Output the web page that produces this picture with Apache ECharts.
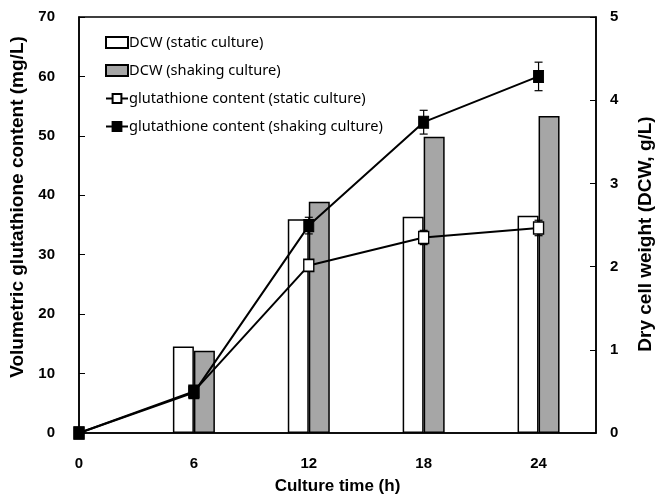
<!DOCTYPE html>
<html>
<head>
<meta charset="utf-8">
<script src="https://cdn.jsdelivr.net/npm/echarts@6/dist/echarts.min.js"></script>
<style>
html,body{margin:0;padding:0;background:#fff;}
#chart{width:671px;height:497px;}
</style>
</head>
<body>
<div id="chart"></div>
<script>
// Data
var times = [0, 6, 12, 18, 24];
var barTimes = [6, 12, 18, 24];
var dcwStatic = [1.04, 2.57, 2.60, 2.61];      // g/L
var dcwShaking = [0.99, 2.78, 3.56, 3.81];     // g/L
var gshStatic = [0, 7.0, 28.2, 32.9, 34.5];    // mg/L
var gshShaking = [0, 6.8, 34.9, 52.3, 60.0];   // mg/L
var gshStaticErr = [0, 0.5, 0.7, 1.2, 1.3];
var gshShakingErr = [0, 0.6, 1.4, 2.0, 2.4];
var xTicks = [0, 6, 12, 18, 24];
var yLeftTicks = [0, 10, 20, 30, 40, 50, 60, 70];
var yRightTicks = [0, 1, 2, 3, 4, 5];

var names = ['DCW (static culture)', 'DCW (shaking culture)',
  'glutathione content (static culture)', 'glutathione content (shaking culture)'];

function pairs(xs, ys) { return xs.map(function (x, i) { return [x, ys[i]]; }); }
function errs(xs, ys, es) { return xs.map(function (x, i) { return [x, ys[i] - es[i], ys[i] + es[i]]; }); }

function errRender(params, api) {
  var x = api.value(0);
  var lo = api.coord([x, api.value(1)]);
  var hi = api.coord([x, api.value(2)]);
  var w = 4;
  var st = { stroke: '#000', lineWidth: 1.2 };
  return {
    type: 'group',
    children: [
      { type: 'line', shape: { x1: lo[0], y1: lo[1], x2: hi[0], y2: hi[1] }, style: st },
      { type: 'line', shape: { x1: lo[0] - w, y1: lo[1], x2: lo[0] + w, y2: lo[1] }, style: st },
      { type: 'line', shape: { x1: hi[0] - w, y1: hi[1], x2: hi[0] + w, y2: hi[1] }, style: st }
    ]
  };
}

var tickFont = { fontFamily: 'Liberation Sans Narrow, Liberation Sans, sans-serif', fontWeight: 'bold', fontSize: 15, color: '#000' };
var titleFont = { fontFamily: 'Liberation Sans, sans-serif', fontWeight: 'bold', fontSize: 19, color: '#000' };

var chart = echarts.init(document.getElementById('chart'), null, { renderer: 'canvas' });
chart.setOption({
  animation: false,
  backgroundColor: '#fff',
  grid: { left: 79, right: 75, top: 17, bottom: 64, show: true, borderColor: '#000', borderWidth: 1.5, outerBoundsMode: 'none', containLabel: false },
  legend: {
    orient: 'vertical', left: 100, top: 30, itemGap: 13, itemWidth: 22, itemHeight: 11,
    textStyle: { fontFamily: 'Noto Sans, sans-serif', fontSize: 14.6, color: '#000', padding: [0, 0, 0, -4] },
    data: [
      { name: names[0], icon: 'rect' },
      { name: names[1], icon: 'rect' },
      { name: names[2] },
      { name: names[3] }
    ]
  },
  xAxis: {
    type: 'value', min: 0, max: 27, interval: 6,
    name: 'Culture time (h)', nameLocation: 'middle', nameGap: 45,
    nameTextStyle: { fontFamily: 'Liberation Sans Narrow, Liberation Sans, sans-serif', fontWeight: 'bold', fontSize: 17, color: '#000' },
    axisLine: { lineStyle: { color: '#000', width: 1.5 } },
    axisTick: { show: false },
    splitLine: { show: false },
    axisLabel: Object.assign({ margin: 23, showMaxLabel: false, formatter: function (v) { return xTicks.indexOf(v) >= 0 ? String(v) : ''; } }, tickFont)
  },
  yAxis: [
    {
      type: 'value', min: 0, max: 70, interval: 10, position: 'left',
      name: 'Volumetric glutathione content (mg/L)', nameLocation: 'middle', nameGap: 48,
      nameTextStyle: Object.assign({ padding: [0, 0, 0, 36] }, titleFont),
      axisLine: { show: true, lineStyle: { color: '#000', width: 1.5 } },
      axisTick: { show: true, inside: true, length: 6, lineStyle: { color: '#000' } },
      splitLine: { show: false },
      axisLabel: Object.assign({ margin: 24, formatter: function (v) { return yLeftTicks.indexOf(v) >= 0 ? String(v) : ''; } }, tickFont)
    },
    {
      type: 'value', min: 0, max: 5, interval: 1, position: 'right',
      name: 'Dry cell weight (DCW, g/L)', nameLocation: 'middle', nameGap: 40, nameRotate: 90,
      nameTextStyle: Object.assign({ padding: [0, 18, 0, 0] }, titleFont),
      axisLine: { show: true, lineStyle: { color: '#000', width: 1.5 } },
      axisTick: { show: true, inside: true, length: 6, lineStyle: { color: '#000' } },
      splitLine: { show: false },
      axisLabel: Object.assign({ margin: 14, formatter: function (v) { return yRightTicks.indexOf(v) >= 0 ? String(v) : ''; } }, tickFont)
    }
  ],
  series: [
    {
      name: names[0], type: 'bar', yAxisIndex: 1, barWidth: 21, barGap: '0%', z: 1,
      itemStyle: { color: '#ffffff', borderColor: '#000', borderWidth: 1.5 },
      data: pairs(barTimes, dcwStatic)
    },
    {
      name: names[1], type: 'bar', yAxisIndex: 1, barWidth: 21, barGap: '0%', z: 1,
      itemStyle: { color: '#a6a6a6', borderColor: '#000', borderWidth: 1.5 },
      data: pairs(barTimes, dcwShaking)
    },
    {
      type: 'custom', yAxisIndex: 0, z: 2, renderItem: errRender, silent: true,
      encode: { x: 0, y: [1, 2] }, data: errs(times, gshStatic, gshStaticErr)
    },
    {
      type: 'custom', yAxisIndex: 0, z: 2, renderItem: errRender, silent: true,
      encode: { x: 0, y: [1, 2] }, data: errs(times, gshShaking, gshShakingErr)
    },
    {
      name: names[2], type: 'line', yAxisIndex: 0, z: 3, clip: false,
      symbol: 'rect', symbolSize: [10, 12],
      lineStyle: { color: '#000', width: 2 },
      itemStyle: { color: '#fff', borderColor: '#000', borderWidth: 1.5 },
      data: pairs(times, gshStatic)
    },
    {
      name: names[3], type: 'line', yAxisIndex: 0, z: 4, clip: false,
      symbol: 'rect', symbolSize: [10, 12],
      lineStyle: { color: '#000', width: 2 },
      itemStyle: { color: '#000', borderColor: '#000', borderWidth: 1 },
      data: pairs(times, gshShaking)
    }
  ]
});
</script>
</body>
</html>
